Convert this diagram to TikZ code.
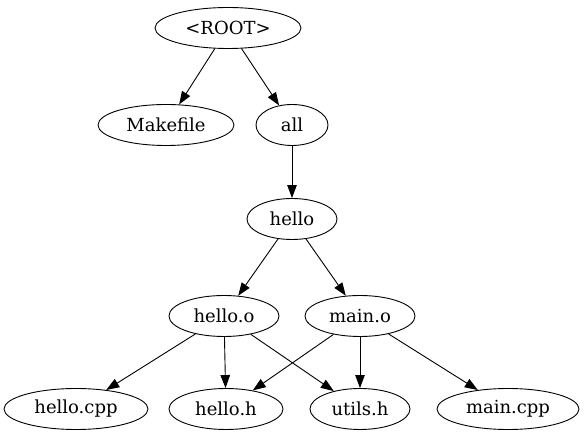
\documentclass[tikz,border=0pt]{standalone}
\usepackage{fontspec}
\setmainfont{DejaVu Serif}
\usetikzlibrary{arrows.meta,shapes.geometric}
\tikzset{
  tgt/.style={ellipse, draw, line width=0.9pt, inner sep=0pt, minimum height=41pt,
              font=\fontsize{18}{20}\selectfont},
  dep/.style={-{Triangle[length=13pt,width=9.5pt]}, line width=0.9pt},
}

\begin{document}
\begin{tikzpicture}[x=1pt,y=-1pt]
  \useasboundingbox (0,0) rectangle (587,443);

  % top level
  \node[tgt, minimum width=146pt] (root) at (228,28) {<ROOT>};
  \node[tgt, minimum width=136pt] (makefile) at (166,125) {Makefile};
  \node[tgt, minimum width=72pt] (all) at (292,125) {all};
  \node[tgt, minimum width=90pt] (hello) at (292,219) {hello};

  % objects
  \node[tgt, minimum width=110pt] (helloO) at (224,316) {hello.o};
  \node[tgt, minimum width=110pt] (mainO) at (360,316) {main.o};

  % sources
  \node[tgt, minimum width=144pt] (helloCpp) at (76,409) {hello.cpp};
  \node[tgt, minimum width=114pt] (helloH) at (226,409) {hello.h};
  \node[tgt, minimum width=100pt] (utilsH) at (360,409) {utils.h};
  \node[tgt, minimum width=142pt] (mainCpp) at (508,409) {main.cpp};

  \draw[dep] (root) -- (makefile);
  \draw[dep] (root) -- (all);
  \draw[dep] (all) -- (hello);
  \draw[dep] (hello) -- (helloO);
  \draw[dep] (hello) -- (mainO);
  \draw[dep] (helloO) -- (helloCpp);
  \draw[dep] (helloO) -- (helloH);
  \draw[dep] (helloO) -- (utilsH);
  \draw[dep] (mainO) -- (helloH);
  \draw[dep] (mainO) -- (utilsH);
  \draw[dep] (mainO) -- (mainCpp);
\end{tikzpicture}
\end{document}
